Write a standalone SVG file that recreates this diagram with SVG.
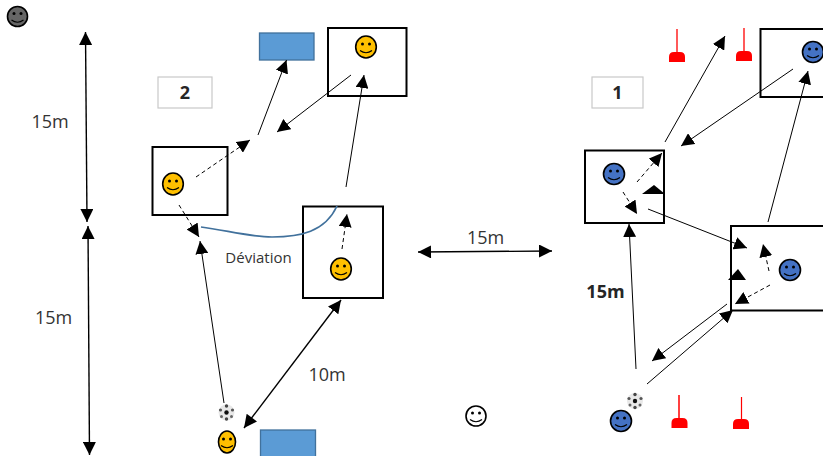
<svg xmlns="http://www.w3.org/2000/svg" width="823" height="456" viewBox="0 0 823 456">
<style>
.box{fill:none;stroke:#000;stroke-width:2}
.blue{fill:#5b9bd5;stroke:#41719c;stroke-width:1.3}
.lab{fill:#fff;stroke:#c9c9c9;stroke-width:1.2}
.c{fill:none;stroke:#000;stroke-width:1}
.d{fill:none;stroke:#000;stroke-width:1;stroke-dasharray:4 3}
.w{fill:none;stroke:#000;stroke-width:1.4}
.e{marker-end:url(#a)}
.s{marker-start:url(#b)}
.t{font-family:"Open Sans","Noto Sans",sans-serif;fill:#333}
.m{font-size:18px}
.b{font-family:"Open Sans","Noto Sans",sans-serif;font-weight:700;font-size:18px;fill:#262626}
.cone{fill:#f00}
.f{stroke:#000;stroke-width:1.6}
.eye{fill:#000}
.mouth{fill:none;stroke:#000;stroke-width:1.2}
</style>
<defs>
<marker id="a" markerUnits="userSpaceOnUse" markerWidth="14" markerHeight="13" refX="13" refY="6.500" orient="auto"><path d="M0 0L13 6.500L0 13Z" fill="#000"/></marker>
<marker id="b" markerUnits="userSpaceOnUse" markerWidth="14" markerHeight="13" refX="0" refY="6.500" orient="auto"><path d="M13 0L0 6.500L13 13Z" fill="#000"/></marker>
<filter id="blur" x="-30%" y="-30%" width="160%" height="160%"><feGaussianBlur stdDeviation="0.6"/></filter>
<g id="face"><circle cx="-3.500" cy="-3" r="1.500" class="eye"/><circle cx="3.500" cy="-3" r="1.500" class="eye"/><path d="M-6 3.500Q0 8 6 3.500" class="mouth"/></g>
<g id="ball" filter="url(#blur)"><circle r="8" fill="#e8e8e8"/><circle r="2.200" fill="#111"/><circle cy="-6.500" r="1.700" fill="#444"/><circle cy="6.500" r="1.700" fill="#444"/><circle cx="-6" cy="-2.500" r="1.600" fill="#555"/><circle cx="6" cy="-2.500" r="1.600" fill="#555"/><circle cx="-5" cy="4" r="1.500" fill="#666"/><circle cx="5" cy="4" r="1.500" fill="#666"/></g>
<path id="dome" d="M0 10V5Q0 0 5 0H11Q16 0 16 5V10Z" class="cone"/>
</defs>

<g id="box-left-top"><rect x="328" y="28" width="78.500" height="68" class="box"/></g>
<g id="box-left-mid"><rect x="152.500" y="147" width="75" height="68" class="box"/></g>
<g id="box-left-low"><rect x="303" y="206.500" width="80" height="91.500" class="box"/></g>
<g id="box-right-top"><rect x="760.500" y="29" width="70" height="68" class="box"/></g>
<g id="box-right-mid"><rect x="585" y="150.500" width="79" height="72.500" class="box"/></g>
<g id="box-right-low"><rect x="731" y="226" width="100" height="84.500" class="box"/></g>

<g id="goal-top"><rect x="259.500" y="33" width="54.500" height="27" class="blue"/></g>
<g id="goal-bottom"><rect x="260.500" y="430" width="55" height="30" class="blue"/></g>

<g id="label-2"><rect x="158" y="77" width="54" height="31" class="lab"/><text x="185" y="99" text-anchor="middle" class="b">2</text></g>
<g id="label-1"><rect x="592" y="77" width="51" height="31" class="lab"/><text x="617.500" y="99" text-anchor="middle" class="b">1</text></g>

<g id="connectors">
<path d="M85.500 32L87 222" class="w e s"/>
<path d="M88 226L89.500 455" class="w e s"/>
<path d="M258 135L286.500 60" class="c e"/>
<path d="M351 75L277 132" class="c e"/>
<path d="M346 187L364 75" class="c e"/>
<path d="M196 177L250 140" class="d e"/>
<path d="M179 205L199 237" class="d e"/>
<path d="M224 403L200 241" class="c e"/>
<path d="M244 428L341 300" class="w e s"/>
<path d="M342 249L347 214" class="d e"/>
<path d="M201 227C225 230 250 237 272 237C300 237 325 232 337 206" fill="none" stroke="#41719c" stroke-width="1.700"/>
<path d="M418 252L552 251" class="w e s"/>
<path d="M665 142L725 36" class="c e"/>
<path d="M793 69L681 146" class="c e"/>
<path d="M768 222L808 71" class="c e"/>
<path d="M637 182L662 153" class="d e"/>
<path d="M623 192L637 214" class="d e"/>
<path d="M648 209L747 248" class="c e"/>
<path d="M769 271L763 244" class="d e"/>
<path d="M770 285L735 304" class="d e"/>
<path d="M727 304L652 361" class="c e"/>
<path d="M647 384L733 310" class="c e"/>
<path d="M636 369L629 224" class="c e"/>
<path d="M642 194L654 185L665 194Z" fill="#000"/>
<path d="M728 280L738 269L746 280Z" fill="#000"/>
</g>

<g id="player-grey"><circle cx="17.500" cy="16.500" r="10" fill="#666" class="f"/><use href="#face" x="17.500" y="16.500"/></g>
<g id="player-o1"><ellipse cx="366" cy="47" rx="10.300" ry="11" fill="#ffc000" class="f"/><use href="#face" x="366" y="47"/></g>
<g id="player-o2"><ellipse cx="173" cy="184" rx="10.300" ry="11" fill="#ffc000" class="f"/><use href="#face" x="173" y="184"/></g>
<g id="player-o3"><ellipse cx="341" cy="269" rx="10.300" ry="11" fill="#ffc000" class="f"/><use href="#face" x="341" y="269"/></g>
<g id="player-o4"><ellipse cx="227" cy="442" rx="8.500" ry="11" fill="#ffc000" class="f"/><use href="#face" x="227" y="442"/></g>
<g id="player-b1"><circle cx="813" cy="52" r="10.500" fill="#4472c4" class="f"/><use href="#face" x="813" y="52"/></g>
<g id="player-b2"><circle cx="614" cy="174" r="10.500" fill="#4472c4" class="f"/><use href="#face" x="614" y="174"/></g>
<g id="player-b3"><circle cx="790" cy="270" r="10.500" fill="#4472c4" class="f"/><use href="#face" x="790" y="270"/></g>
<g id="player-b4"><circle cx="621" cy="421" r="10.500" fill="#4472c4" class="f"/><use href="#face" x="621" y="421"/></g>
<g id="player-white"><circle cx="476" cy="416" r="10" fill="#fff" class="f"/><use href="#face" x="476" y="416"/></g>

<g id="ball-left"><use href="#ball" x="226.500" y="412.500"/></g>
<g id="ball-right"><use href="#ball" x="635" y="401"/></g>

<g id="cone-1"><path d="M677 29V54" stroke="#f00" stroke-width="1.300"/><use href="#dome" x="669" y="52"/></g>
<g id="cone-2"><path d="M744 28V53" stroke="#f00" stroke-width="1.300"/><use href="#dome" x="736" y="51"/></g>
<g id="cone-3"><path d="M679 395V420" stroke="#f00" stroke-width="1.500"/><use href="#dome" x="671.500" y="418"/></g>
<g id="cone-4"><path d="M741.500 397V421" stroke="#f00" stroke-width="1.200"/><use href="#dome" x="733" y="419"/></g>

<g id="labels">
<text x="50" y="128" text-anchor="middle" class="t m">15m</text>
<text x="53.500" y="324" text-anchor="middle" class="t m">15m</text>
<text x="327" y="381" text-anchor="middle" class="t m">10m</text>
<text x="485.500" y="244" text-anchor="middle" class="t m">15m</text>
<text x="605.500" y="298" text-anchor="middle" class="b">15m</text>
<text x="258.500" y="262.500" text-anchor="middle" class="t" font-size="15px">Déviation</text>
</g>
</svg>
